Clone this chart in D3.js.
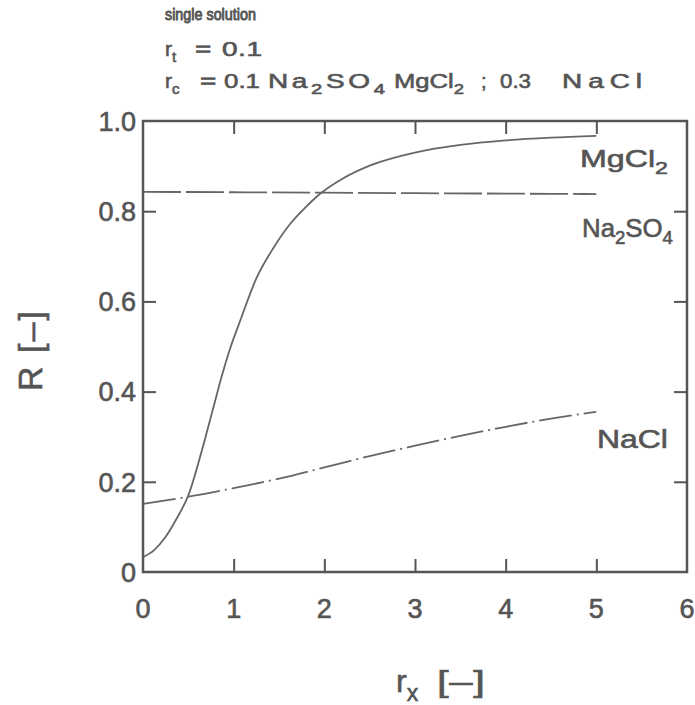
<!DOCTYPE html>
<html>
<head>
<meta charset="utf-8">
<script src="https://cdn.jsdelivr.net/npm/d3@7"></script>
<style>
  html, body { margin: 0; padding: 0; background: #fff; }
  svg { display: block; font-family: "Liberation Sans", Arial, sans-serif; }
</style>
</head>
<body>
<div id="chart"></div>
<script>
'use strict';

// values
const xTicks = [0, 1, 2, 3, 4, 5, 6];
const yTicks = [0, 0.2, 0.4, 0.6, 0.8, 1.0];
const yTickLabels = ['0', '0.2', '0.4', '0.6', '0.8', '1.0'];

const rxMgCl2 = [0, 0.12, 0.25, 0.37, 0.5, 0.65, 0.77, 0.87, 0.96, 1.07, 1.25, 1.44, 1.62, 1.8, 1.95, 2.2, 2.5, 3, 3.5, 4, 4.5, 5];
const rMgCl2  = [0.033, 0.048, 0.078, 0.118, 0.17, 0.27, 0.36, 0.435, 0.495, 0.556, 0.651, 0.719, 0.771, 0.81, 0.838, 0.872, 0.901, 0.93, 0.947, 0.957, 0.963, 0.967];

const rxNa2SO4 = [0, 1, 2, 3, 4, 5];
const rNa2SO4  = [0.843, 0.842, 0.841, 0.84, 0.839, 0.838];

const rxNaCl = [0, 0.5, 1, 1.5, 2, 2.5, 3, 3.5, 4, 4.5, 5];
const rNaCl  = [0.151, 0.167, 0.186, 0.207, 0.232, 0.257, 0.28, 0.302, 0.322, 0.34, 0.355];

const ink = '#555';
const W = 695, H = 705;
const box = { left: 143, right: 687, top: 121, bottom: 572 };

const svg = d3.select('#chart').append('svg')
  .attr('width', W).attr('height', H);

const x = d3.scaleLinear().domain([0, 6]).range([box.left, box.right]);
const y = d3.scaleLinear().domain([0, 1]).range([box.bottom, box.top]);

// frame + inward ticks on all four sides
const tickLen = 13;
const axisStyle = (g) => {
  g.select('.domain').remove();
  g.selectAll('.tick line').attr('stroke', ink).attr('stroke-width', 2);
};

svg.append('g')
  .attr('transform', `translate(0,${box.bottom})`)
  .call(d3.axisBottom(x).tickValues(xTicks.slice(1, -1)).tickSize(-tickLen).tickFormat(''))
  .call(axisStyle);
svg.append('g')
  .attr('transform', `translate(0,${box.top})`)
  .call(d3.axisTop(x).tickValues(xTicks.slice(1, -1)).tickSize(-tickLen).tickFormat(''))
  .call(axisStyle);
svg.append('g')
  .attr('transform', `translate(${box.left},0)`)
  .call(d3.axisLeft(y).tickValues(yTicks.slice(1, -1)).tickSize(-tickLen).tickFormat(''))
  .call(axisStyle);
svg.append('g')
  .attr('transform', `translate(${box.right},0)`)
  .call(d3.axisRight(y).tickValues(yTicks.slice(1, -1)).tickSize(-tickLen).tickFormat(''))
  .call(axisStyle);

svg.append('rect')
  .attr('x', box.left).attr('y', box.top)
  .attr('width', box.right - box.left).attr('height', box.bottom - box.top)
  .attr('fill', 'none').attr('stroke', ink).attr('stroke-width', 2.5);

// tick labels
const heavy = (sel) => sel.attr('fill', ink).attr('stroke', ink).attr('stroke-width', 0.6);

svg.append('g').selectAll('text').data(xTicks).enter().append('text')
  .attr('x', (d) => x(d)).attr('y', box.bottom + 46)
  .attr('text-anchor', 'middle')
  .attr('font-size', 27)
  .text((d) => d)
  .call(heavy);

svg.append('g').selectAll('text').data(yTicks).enter().append('text')
  .attr('x', box.left - 7).attr('y', (d) => y(d))
  .attr('dy', '0.36em')
  .attr('text-anchor', 'end')
  .attr('font-size', 27)
  .text((d, i) => yTickLabels[i])
  .call(heavy);

// curves
const line = d3.line()
  .x((d) => x(d[0])).y((d) => y(d[1]))
  .curve(d3.curveMonotoneX);

const series = [
  { xs: rxMgCl2, ys: rMgCl2, dash: null },
  { xs: rxNa2SO4, ys: rNa2SO4, dash: '38,5' },
  { xs: rxNaCl, ys: rNaCl, dash: '33,5,2,5' }
];

series.forEach((s) => {
  svg.append('path')
    .datum(d3.zip(s.xs, s.ys))
    .attr('d', line)
    .attr('fill', 'none')
    .attr('stroke', '#666')
    .attr('stroke-width', 1.8)
    .attr('stroke-dasharray', s.dash);
});

// text with subscripts: parts = [[text, isSub], ...]
// the lettering of the scan is wide, so stretch it to the measured width
const label = (px, py, size, parts, width) => {
  const t = svg.append('text')
    .attr('transform', `translate(${px},${py})`)
    .attr('font-size', size)
    .call(heavy);
  let shifted = false;
  parts.forEach(([txt, sub]) => {
    const ts = t.append('tspan').text(txt);
    if (sub) {
      ts.attr('font-size', size * 0.72).attr('dy', shifted ? 0 : size * 0.28);
      shifted = true;
    } else if (shifted) {
      ts.attr('dy', -size * 0.28);
      shifted = false;
    }
  });
  if (width) {
    const n = parts.reduce((a, p) => a + p[0].length, 0);
    const natural = t.node().getComputedTextLength();
    const s = Math.min(1.4, width / natural);
    const ls = Math.max(0, (width / s - natural) / Math.max(1, n - 1));
    t.attr('transform', `translate(${px},${py}) scale(${s},1)`)
      .attr('letter-spacing', ls);
  }
  return t;
};

label(165, 20, 16, [['single solution']], 91).attr('stroke-width', 0.9);

label(165, 56, 21, [['r'], ['t', true]]);
label(195, 56, 20, [['=']], 18);
label(222, 56, 20, [['0.1']], 40);

label(165, 88, 21, [['r'], ['c', true]]);
label(200, 88, 20, [['=']], 18);
label(224, 88, 20, [['0.1']], 36);
label(268, 88, 20, [['Na'], ['2', true], ['SO'], ['4', true]], 117);
label(394, 88, 20, [['MgCl'], ['2', true]], 70);
label(481, 88, 20, [[';']]);
label(500, 88, 20, [['0.3']], 31);
label(562, 88, 20, [['NaCl']], 80);

label(580, 167, 24, [['MgCl'], ['2', true]], 88);
label(582, 237, 26, [['Na'], ['2', true], ['SO'], ['4', true]], 91);
label(597, 448, 25, [['NaCl']], 71);

// axis titles
label(396, 692, 32, [['r'], ['x', true]]);
label(437, 692, 30, [['[–]']], 48);

svg.append('text')
  .attr('transform', 'translate(42,350) rotate(-90)')
  .attr('text-anchor', 'middle')
  .attr('font-size', 34)
  .attr('letter-spacing', 2)
  .text('R  [–]')
  .call(heavy);
</script>
</body>
</html>
